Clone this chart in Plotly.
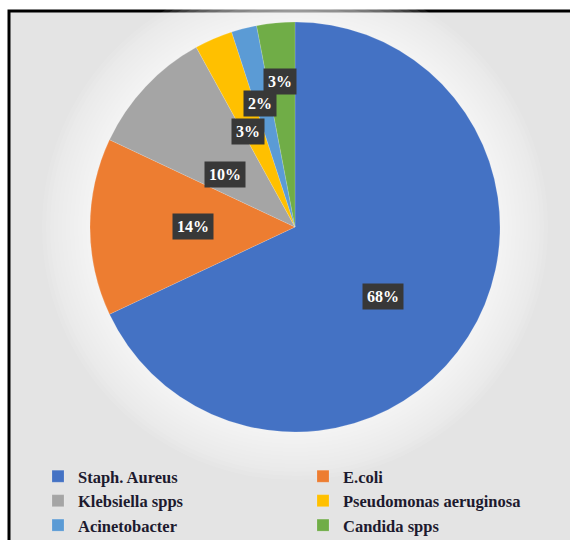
import numpy as np
import plotly.graph_objects as go

# ---- data ----
organisms = ["Staph. Aureus", "E.coli", "Klebsiella spps",
             "Pseudomonas aeruginosa", "Acinetobacter", "Candida spps"]
percent = [68, 14, 10, 3, 2, 3]
colors = ["#4472C4", "#ED7D31", "#A5A5A5", "#FFC000", "#5B9BD5", "#70AD47"]

# ---- layout geometry (pixels) ----
W, H = 570, 540
cx, cy, R = 295, 227, 205
label_r = [0.63, 0.50, 0.47, 0.58, 0.69, 0.78]

fig = go.Figure(go.Pie(
    labels=organisms, values=percent, sort=False, direction="clockwise",
    rotation=0, marker=dict(colors=colors, line=dict(color="rgba(255,255,255,0.3)", width=0.5)),
    textinfo="none", hoverinfo="label+percent",
    domain=dict(x=[(cx - R) / W, (cx + R) / W], y=[1 - (cy + R) / H, 1 - (cy - R) / H]),
))

# labels placed at slice mid-angles computed from the values
vals = np.array(percent, dtype=float)
shares = vals / vals.sum()
ends = np.cumsum(shares) * 360
mids = ends - shares * 180
for m, f, s in zip(mids, label_r, shares):
    a = np.deg2rad(m)
    px = cx + f * R * np.sin(a)
    py = cy - f * R * np.cos(a)
    fig.add_annotation(x=px / W, y=1 - py / H, xref="paper", yref="paper",
                       text=f"{round(s * 100)}%", showarrow=False,
                       font=dict(family="Liberation Serif", size=16, color="white", weight="bold"),
                       bgcolor="#383838", borderpad=4)

# chart area frame
fig.add_shape(type="rect", xref="paper", yref="paper",
              x0=9 / W, x1=1.2, y0=-0.2, y1=1 - 11 / H,
              line=dict(color="black", width=3), fillcolor="#e4e4e4", layer="below")
# soft glow behind the pie
for k in range(48, 0, -4):
    fig.add_shape(type="circle", xref="paper", yref="paper",
                  x0=(cx - R - k) / W, x1=(cx + R + k) / W,
                  y0=1 - (cy + R + k) / H, y1=1 - (cy - R - k) / H,
                  line=dict(width=0), fillcolor="white", opacity=0.09, layer="below")

fig.update_layout(
    width=W, height=H, margin=dict(l=0, r=0, t=0, b=0, autoexpand=False),
    paper_bgcolor="white", plot_bgcolor="white",
    showlegend=True,
    legend=dict(orientation="h", x=38 / W, xanchor="left", y=1 - 459 / H, yanchor="top",
                entrywidth=220, entrywidthmode="pixels", tracegroupgap=0,
                font=dict(family="Liberation Serif", size=16.5, color="#1d1a2e", weight="bold"),
                bgcolor="rgba(0,0,0,0)", itemwidth=30),
)

fig.write_html("out.html")
